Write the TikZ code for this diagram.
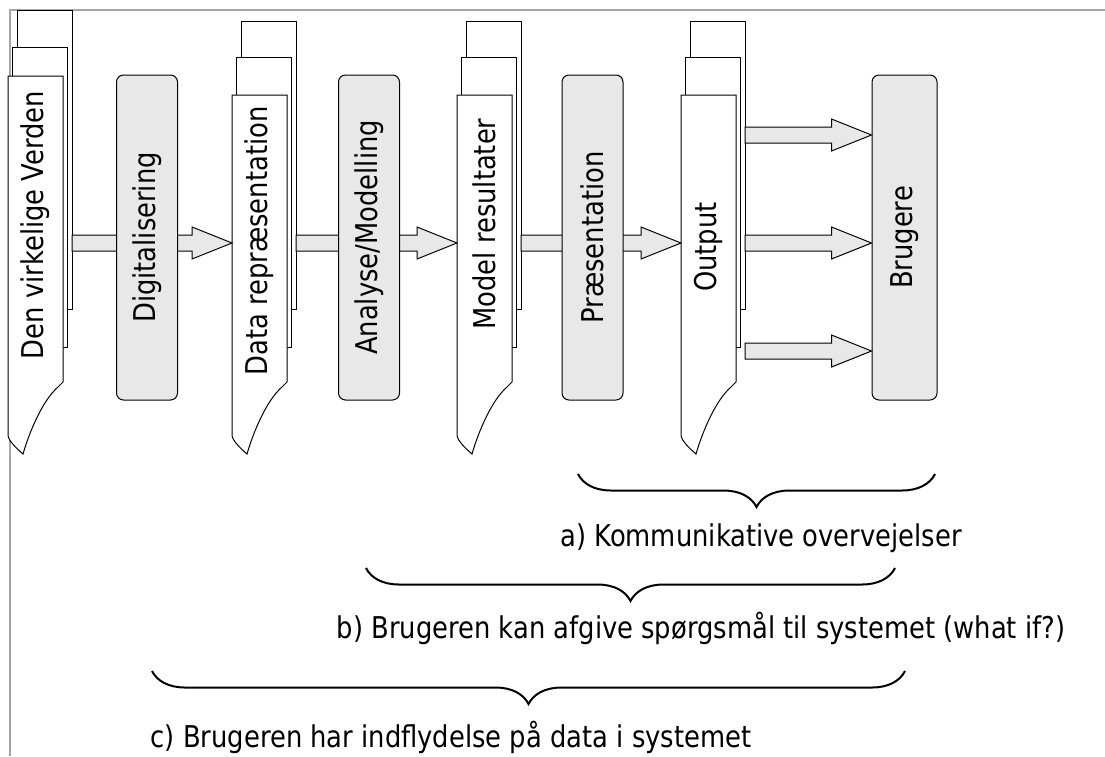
\documentclass[tikz,border=0pt]{standalone}
\usepackage{fontspec}
\setmainfont[FakeStretch=0.86]{DejaVu Sans}
\usetikzlibrary{calc,decorations.pathreplacing}
\definecolor{boxgray}{HTML}{E8E8E8}
\tikzset{
    txt/.style={font=\fontsize{30}{34}\selectfont},
    procbox/.style={txt,draw,fill=boxgray,line width=1pt,rounded corners=7pt,rotate=90,
        minimum width=325pt,minimum height=61pt,inner sep=0pt},
    doclabel/.style={txt,rotate=90,inner sep=0pt},
    page/.style={draw,fill=white,line width=1pt},
    blk/.style={draw,fill=boxgray,line width=1pt},
    curly/.style={decorate,decoration={brace,amplitude=33pt},line width=2pt},
    note/.style={txt,inner sep=0pt}
}
% stack of pages: name, left x, top of front, middle and back page, label, label y
\newcommand{\docstack}[7]{
    \draw[page] (#2+9,#5) rectangle (#2+64,309);
    \draw[page] (#2+4,#4) rectangle (#2+59,347);
    \draw[page] (#2,#3) -- (#2+55,#3) -- (#2+55,382) -- (#2+50,387)
        .. controls (#2+35,400) and (#2+22,430) .. (#2+15,454)
        .. controls (#2+8,448) and (#2,440) .. (#2,435) -- cycle;
    \node[doclabel] (#1) at (#2+27.5,#7) {#6};
    \coordinate (#1-in) at (#2,243);
    \coordinate (#1-out) at (#2+64,243);
}
% block arrow from the x of #1 to the point #2
\newcommand{\blkarrow}[2]{
    \draw[blk] let \p1=(#1), \p2=(#2) in
        (\x1,\y2+8pt) -- (\x2-40pt,\y2+8pt) -- (\x2-40pt,\y2+16pt) -- (\x2,\y2)
        -- (\x2-40pt,\y2-16pt) -- (\x2-40pt,\y2-8pt) -- (\x1,\y2-8pt) -- cycle;
}
\begin{document}
\begin{tikzpicture}[x=1pt,y=-1pt]
    \useasboundingbox (0,0) rectangle (1105,756);
    \draw[gray!70,line width=1.5pt] (10,756) -- (10,10) -- (1105,10);

    \docstack{verden}{8}{76}{47}{10}{Den virkelige Verden}{225}
    \docstack{data}{232}{95}{57}{21}{Data repræsentation}{241}
    \docstack{model}{457}{95}{57}{21}{Model resultater}{224}
    \docstack{output}{681}{95}{57}{21}{Output}{247}

    \node[procbox,minimum height=65pt] (brug) at (904.5,237.5) {Brugere};

    \blkarrow{verden-out}{data-in}
    \blkarrow{data-out}{model-in}
    \blkarrow{model-out}{output-in}
    \blkarrow{output-out}{$(brug.north |- output-out)+(0,-108)$}
    \blkarrow{output-out}{brug.north |- output-out}
    \blkarrow{output-out}{$(brug.north |- output-out)+(0,108)$}

    \node[procbox] (digi) at (147,237.5) {Digitalisering};
    \node[procbox] (anal) at (369,237.5) {Analyse/Modelling};
    \node[procbox] (praes) at (592.5,237.5) {Præsentation};

    \draw[curly] (935,474) -- (578,474);
    \node[note] (komm) at (761,538) {a) Kommunikative overvejelser};
    \draw[curly] (895,568) -- (366,568);
    \node[note] (spoer) at (701,628) {b) Brugeren kan afgive spørgsmål til systemet (what if?)};
    \draw[curly] (905,671) -- (152,671);
    \node[note] (indfl) at (451,737) {c) Brugeren har indflydelse på data i systemet};
\end{tikzpicture}
\end{document}
